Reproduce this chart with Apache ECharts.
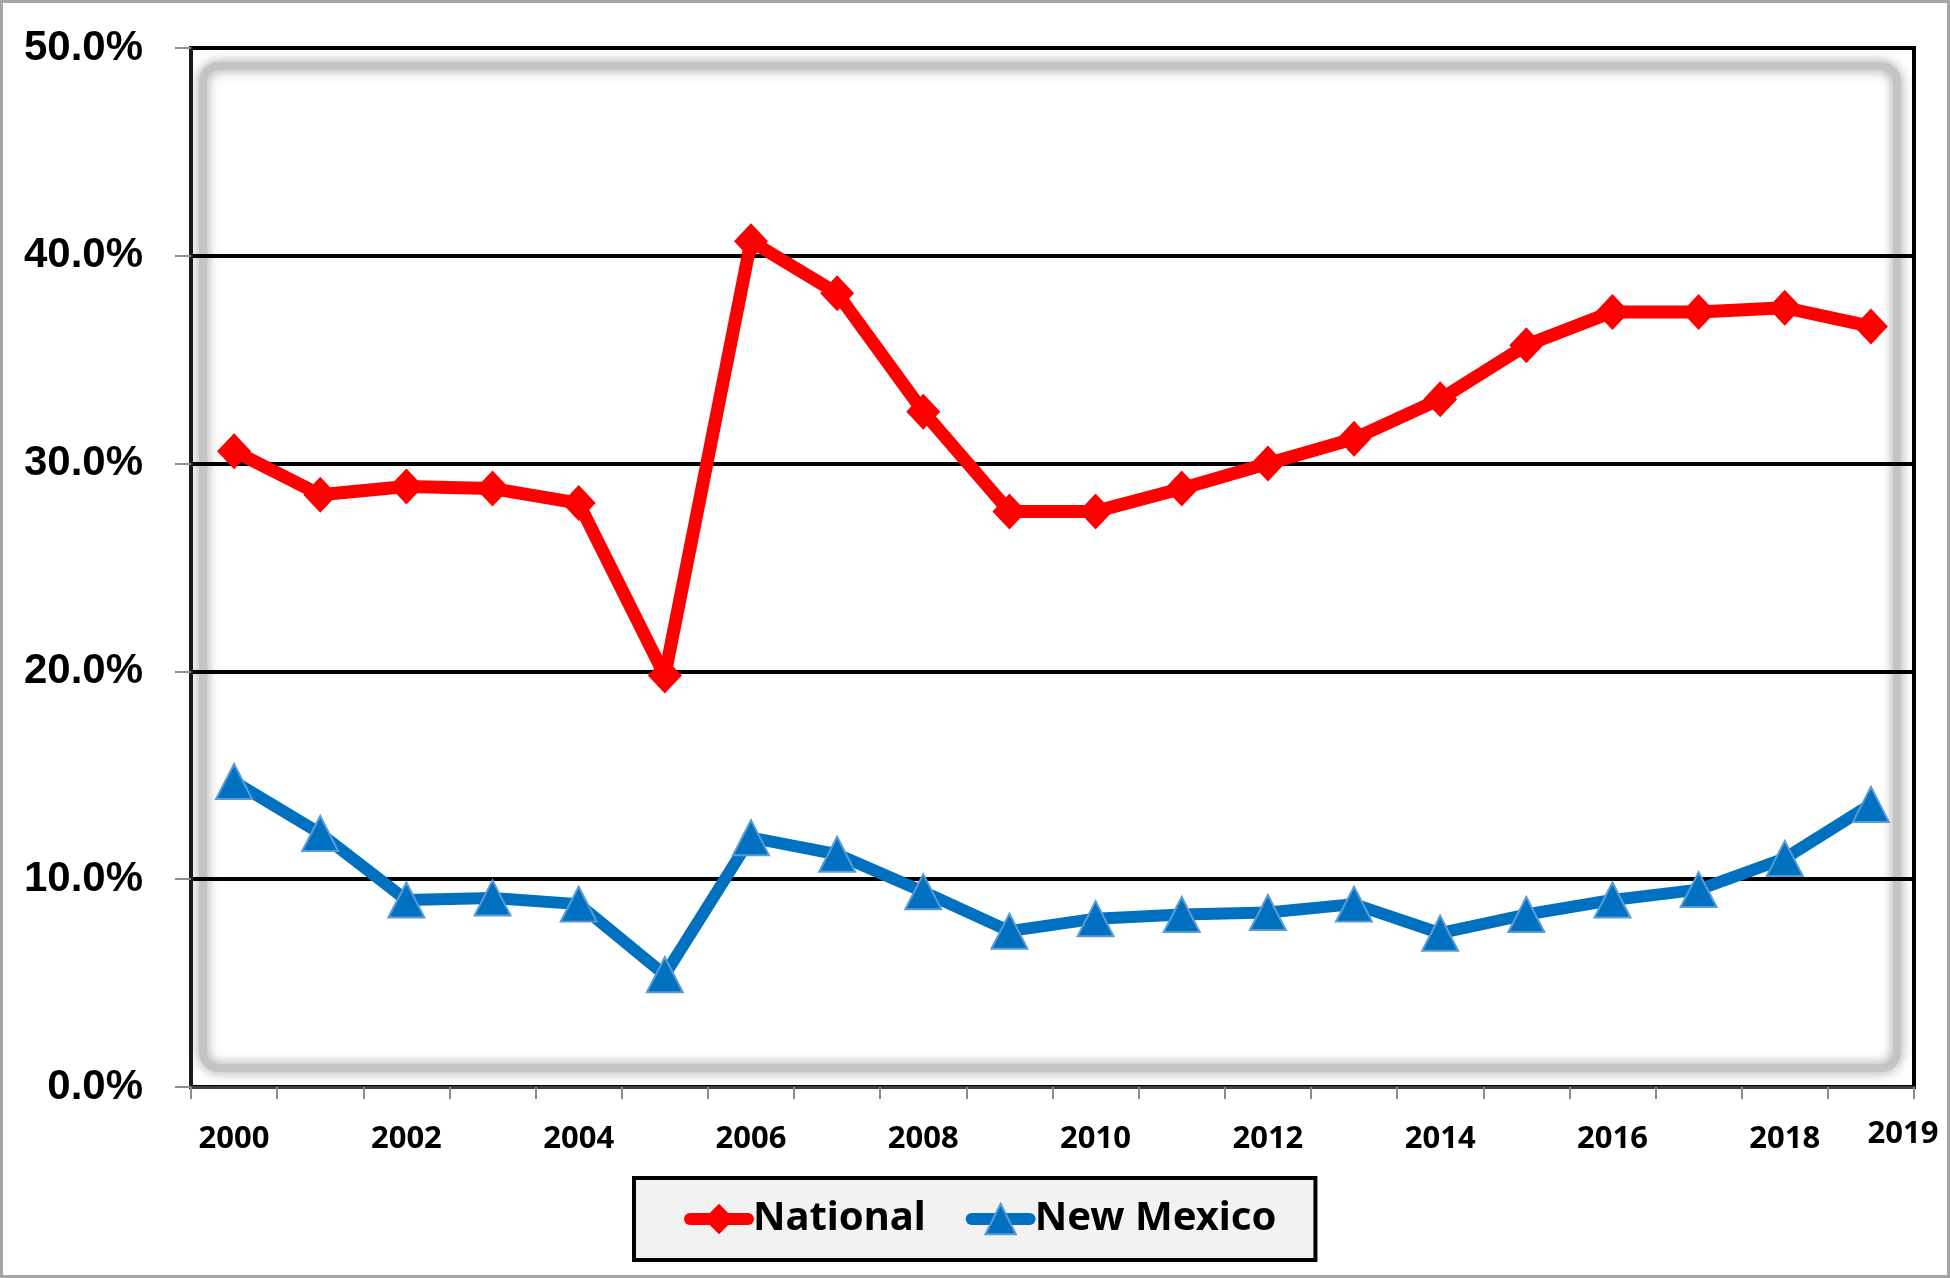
<!DOCTYPE html>
<html>
<head>
<meta charset="utf-8">
<script src="https://cdn.jsdelivr.net/npm/echarts@6/dist/echarts.min.js"></script>
<style>
html,body{margin:0;padding:0;background:#fff;}
#chart{width:1950px;height:1278px;}
</style>
</head>
<body>
<div id="chart"></div>
<script>
const years = ['2000','2001','2002','2003','2004','2005','2006','2007','2008','2009','2010','2011','2012','2013','2014','2015','2016','2017','2018','2019'];
const nationalValues = [30.6, 28.5, 28.9, 28.8, 28.1, 19.8, 40.7, 38.2, 32.5, 27.7, 27.7, 28.8, 30.0, 31.2, 33.1, 35.7, 37.3, 37.3, 37.5, 36.6];
const newMexicoValues = [14.7, 12.2, 9.0, 9.1, 8.8, 5.4, 12.0, 11.2, 9.4, 7.5, 8.1, 8.3, 8.4, 8.8, 7.4, 8.3, 9.0, 9.5, 11.0, 13.6];
const yTicks = {min: 0, max: 50, interval: 10};

const chart = echarts.init(document.getElementById('chart'));
const labelFont = "'Noto Sans', 'Open Sans', sans-serif";
const yFont = "'Liberation Sans', sans-serif";
const lastIdx = years.length - 1;

const xLabelBase = {fontFamily: labelFont, fontWeight: 'bold', fontSize: 31, color: '#000'};

chart.setOption({
  animation: false,
  backgroundColor: '#ffffff',
  graphic: [
    {type: 'rect', z: -20, silent: true,
     shape: {x: 1.5, y: 1.5, width: 1947, height: 1275},
     style: {fill: '#ffffff', stroke: '#a6a6a6', lineWidth: 3}},
    {type: 'rect', z: -10, silent: true,
     shape: {x: 203, y: 66, width: 1694, height: 1002, r: 16},
     style: {fill: 'none', stroke: '#c4c4c4', lineWidth: 8, shadowBlur: 12, shadowColor: 'rgba(120,120,120,0.75)'}}
  ],
  grid: {left: 191, right: 36, top: 48, bottom: 191, show: true, borderColor: '#000', borderWidth: 4, backgroundColor: 'transparent'},
  legend: {
    left: 634, top: 1178,
    backgroundColor: '#f2f2f2', borderColor: '#000', borderWidth: 4,
    padding: [21, 39, 21, 50],
    itemWidth: 58, itemHeight: 38, itemGap: 40,
    lineStyle: {width: 12, cap: 'round'},
    textStyle: {fontFamily: labelFont, fontWeight: 'bold', fontSize: 40, color: '#000', lineHeight: 40},
    data: ['National', 'New Mexico']
  },
  xAxis: [
    {
      type: 'category', data: years, boundaryGap: true, position: 'bottom',
      axisLine: {show: true, lineStyle: {color: '#404040', width: 3}},
      axisTick: {show: true, interval: 0, alignWithLabel: false, length: 12, lineStyle: {color: '#8c8c8c', width: 2}},
      axisLabel: Object.assign({
        interval: function (i) { return i % 2 === 0; },
        margin: 32, lineHeight: 40
      }, xLabelBase),
      splitLine: {show: false}
    },
    {
      type: 'category', data: years, boundaryGap: true, position: 'bottom',
      axisLine: {show: false}, axisTick: {show: false}, splitLine: {show: false},
      axisLabel: Object.assign({
        interval: function (i) { return i === lastIdx; },
        margin: 32,
        formatter: function (v) { return '{b|' + v + '}'; },
        rich: {b: Object.assign({lineHeight: 30, padding: [0, 0, 0, 64]}, xLabelBase)}
      }, xLabelBase)
    }
  ],
  yAxis: {
    type: 'value', min: yTicks.min, max: yTicks.max, interval: yTicks.interval,
    axisLine: {show: true, lineStyle: {color: '#1a1a1a', width: 4}},
    axisTick: {show: true, length: 16, lineStyle: {color: '#8c8c8c', width: 2}},
    axisLabel: {margin: 48, color: '#000', fontFamily: yFont, fontWeight: 'bold', fontSize: 42,
      formatter: function (v) { return v.toFixed(1) + '%'; }},
    splitLine: {show: true, lineStyle: {color: '#000', width: 4}}
  },
  series: [
    {
      name: 'National', type: 'line', data: nationalValues, xAxisIndex: 0,
      symbol: 'diamond', symbolSize: [34, 36], showAllSymbol: true,
      lineStyle: {color: '#ff0000', width: 13, join: 'round'},
      itemStyle: {color: '#ff0000'},
      z: 3
    },
    {
      name: 'New Mexico', type: 'line', data: newMexicoValues, xAxisIndex: 0,
      symbol: 'triangle', symbolSize: [36, 35], showAllSymbol: true,
      lineStyle: {color: '#0070c0', width: 12, join: 'round'},
      itemStyle: {color: '#0070c0', borderColor: '#5b9bd5', borderWidth: 2},
      z: 3
    }
  ]
});
</script>
</body>
</html>
